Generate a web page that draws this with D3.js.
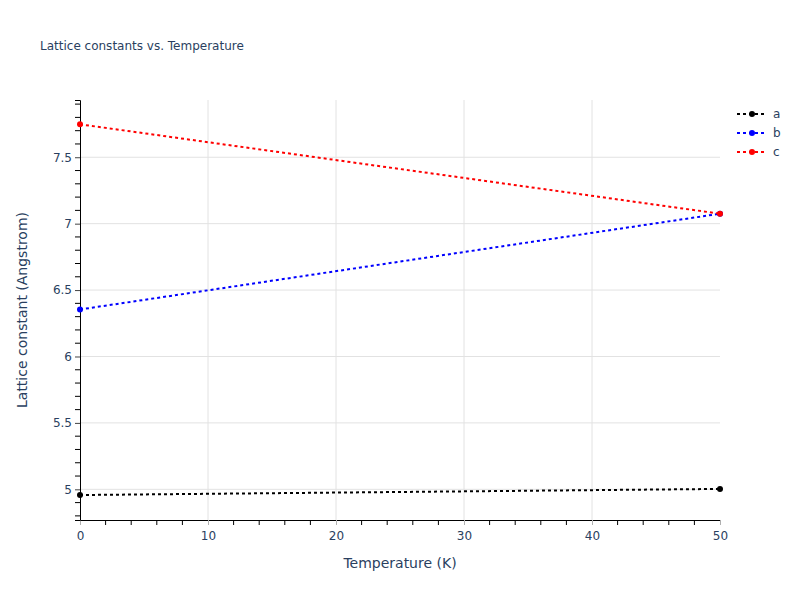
<!DOCTYPE html>
<html><head><meta charset="utf-8">
<script src="https://cdn.jsdelivr.net/npm/d3@7"></script>
<style>body{margin:0;background:#fff}svg{display:block}</style>
</head><body>
<script>
const temperatures = [0, 50];
const seriesNames = ["a", "b", "c"];
const aValues = [4.957, 5.003];
const bValues = [6.354, 7.075];
const cValues = [7.748, 7.075];
const seriesColors = ["#000000", "#0000ff", "#ff0000"];
const xTicks = [0, 10, 20, 30, 40, 50];
const yTicks = [5, 5.5, 6, 6.5, 7, 7.5];
const yTickLabels = ["5", "5.5", "6", "6.5", "7", "7.5"];

const W = 800, H = 600;
const m = {l: 80, r: 80, t: 100, b: 80};
const font = '"DejaVu Sans", Verdana, sans-serif';
const txt = "#2a3f5f";
const svg = d3.select("body").append("svg").attr("width", W).attr("height", H).style("font-family", font);

const x = d3.scaleLinear().domain([0, 50]).range([m.l, W - m.r]);
const y = d3.scaleLinear().domain([4.769, 7.931]).range([H - m.b, m.t]);

// gridlines
svg.append("g").selectAll("line").data(xTicks.filter(d => d > 0 && d < 50)).join("line")
  .attr("x1", d => x(d)).attr("x2", d => x(d)).attr("y1", m.t).attr("y2", H - m.b)
  .attr("stroke", "#e2e2e2").attr("stroke-width", 1);
svg.append("g").selectAll("line").data(yTicks).join("line")
  .attr("x1", m.l).attr("x2", W - m.r).attr("y1", d => y(d)).attr("y2", d => y(d))
  .attr("stroke", "#e2e2e2").attr("stroke-width", 1);

// minor ticks
const xMinor = d3.range(0, 51, 2).filter(d => d % 10 !== 0);
svg.append("g").selectAll("line").data(xMinor).join("line")
  .attr("x1", d => x(d)).attr("x2", d => x(d)).attr("y1", H - m.b).attr("y2", H - m.b + 5)
  .attr("stroke", "#000");
const yMinor = d3.range(48, 80, 1).map(d => d / 10).filter(d => Math.abs(d * 2 - Math.round(d * 2)) > 1e-6);
svg.append("g").selectAll("line").data(yMinor).join("line")
  .attr("x1", m.l - 5).attr("x2", m.l).attr("y1", d => y(d)).attr("y2", d => y(d))
  .attr("stroke", "#000");

// axes
const xAxis = svg.append("g").attr("transform", `translate(0,${H - m.b})`)
  .call(d3.axisBottom(x).tickValues(xTicks).tickSize(5).tickPadding(6));
xAxis.select(".domain").attr("stroke", "#000");
xAxis.selectAll(".tick line").attr("stroke", "#b0b0b0");
xAxis.selectAll(".tick text").attr("fill", txt).style("font-size", "12px").style("font-family", font);

const yAxis = svg.append("g").attr("transform", `translate(${m.l},0)`)
  .call(d3.axisLeft(y).tickValues(yTicks).tickFormat((d, i) => yTickLabels[i]).tickSize(5).tickPadding(3));
yAxis.select(".domain").attr("stroke", "#000");
yAxis.selectAll(".tick line").attr("stroke", "#444");
yAxis.selectAll(".tick text").attr("fill", txt).style("font-size", "12px").style("font-family", font);

// series
const allValues = [aValues, bValues, cValues];
const line = d3.line().x((d, i) => x(temperatures[i])).y(d => y(d));
allValues.forEach((vals, k) => {
  svg.append("path").datum(vals).attr("d", line).attr("fill", "none")
    .attr("stroke", seriesColors[k]).attr("stroke-width", 2).attr("stroke-dasharray", "3,3");
  svg.append("g").selectAll("circle").data(vals).join("circle")
    .attr("cx", (d, i) => x(temperatures[i])).attr("cy", d => y(d)).attr("r", 3)
    .attr("fill", seriesColors[k]);
});

// legend
const lg = svg.append("g");
seriesNames.forEach((name, k) => {
  const yy = 114 + k * 19;
  lg.append("line").attr("x1", 737).attr("x2", 767).attr("y1", yy).attr("y2", yy)
    .attr("stroke", seriesColors[k]).attr("stroke-width", 2).attr("stroke-dasharray", "3,3");
  lg.append("circle").attr("cx", 752).attr("cy", yy).attr("r", 3).attr("fill", seriesColors[k]);
  lg.append("text").attr("x", 773).attr("y", yy).attr("dy", "0.35em").attr("fill", txt)
    .style("font-size", "12px").text(name);
});

// titles
svg.append("text").attr("x", 40).attr("y", 50).attr("fill", txt).style("font-size", "12px")
  .text("Lattice constants vs. Temperature");
svg.append("text").attr("x", (m.l + W - m.r) / 2).attr("y", 568).attr("text-anchor", "middle")
  .attr("fill", txt).style("font-size", "14px").text("Temperature (K)");
svg.append("text").attr("transform", `translate(27,${(m.t + H - m.b) / 2}) rotate(-90)`)
  .attr("text-anchor", "middle").attr("fill", txt).style("font-size", "14px")
  .text("Lattice constant (Angstrom)");
</script>
</body></html>
